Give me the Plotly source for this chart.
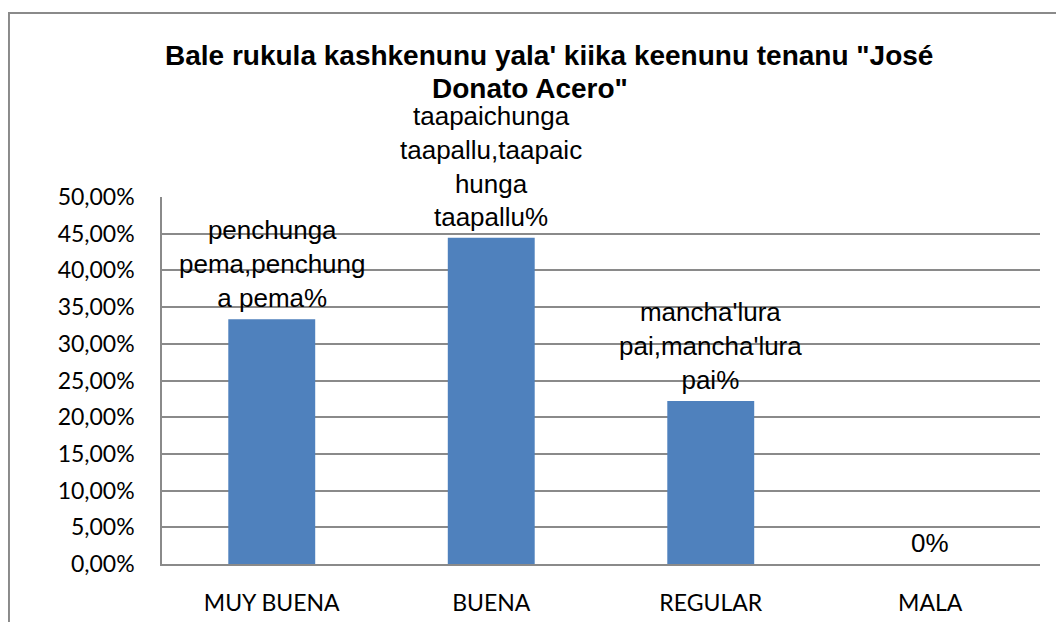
import plotly.graph_objects as go

categories = ["MUY BUENA", "BUENA", "REGULAR", "MALA"]
values = [0.3333, 0.4444, 0.2222, 0.0]
bar_labels = [
    "penchunga<br>pema,penchung<br>a pema%",
    "taapaichunga<br>taapallu,taapaic<br>hunga<br>taapallu%",
    "mancha'lura<br>pai,mancha'lura<br>pai%",
    "0%",
]
tick_vals = [0.0, 0.05, 0.10, 0.15, 0.20, 0.25, 0.30, 0.35, 0.40, 0.45, 0.50]
tick_text = ["0,00%", "5,00%", "10,00%", "15,00%", "20,00%", "25,00%",
             "30,00%", "35,00%", "40,00%", "45,00%", "50,00%"]
title_lines = ["Bale rukula kashkenunu yala' kiika keenunu tenanu \"José",
               "Donato Acero\""]

GRID = "#8a8a8a"
BAR = "#4F81BD"
LABEL_FONT = "Lato, Carlito, Calibri, sans-serif"
ARIAL = "Liberation Sans, Arial, sans-serif"

fig = go.Figure()
fig.add_trace(go.Bar(x=categories, y=values, marker=dict(color=BAR, line=dict(width=0)),
                     hoverinfo="skip"))

annotations = []
for c, v, t in zip(categories, values, bar_labels):
    annotations.append(dict(x=c, y=v, xref="x", yref="y", text=t, showarrow=False,
                            yanchor="bottom", yshift=4,
                            font=dict(family=ARIAL, size=26, color="#000000")))

# title lines
annotations.append(dict(x=0.4408, y=1.385, xref="paper", yref="paper", text=title_lines[0],
                        showarrow=False, xanchor="center", yanchor="middle",
                        font=dict(family=ARIAL, size=28, color="#000000", weight="bold")))
annotations.append(dict(x=0.4191, y=1.297, xref="paper", yref="paper", text=title_lines[1],
                        showarrow=False, xanchor="center", yanchor="middle",
                        font=dict(family=ARIAL, size=28, color="#000000", weight="bold")))

fig.update_layout(
    width=1064, height=622,
    margin=dict(l=154, r=32, t=189, b=66, pad=0, autoexpand=False),
    paper_bgcolor="white", plot_bgcolor="white",
    showlegend=False,
    bargap=0.604,
    annotations=annotations,
    shapes=[dict(type="rect", xref="paper", yref="paper",
                 x0=-0.1743, x1=1.2, y0=-0.4, y1=1.5014,
                 line=dict(color=GRID, width=2), fillcolor="rgba(0,0,0,0)", layer="below")],
)
fig.update_xaxes(showline=True, linecolor=GRID, linewidth=1.5, showgrid=False,
                 ticks="", automargin=False,
                 tickfont=dict(family=LABEL_FONT, size=23, color="#000000"),
                 ticklabelstandoff=18)
fig.update_yaxes(range=[0, 0.5], tickvals=tick_vals, ticktext=tick_text,
                 showgrid=True, gridcolor=GRID, gridwidth=1.5, zeroline=False,
                 showline=True, linecolor=GRID, linewidth=1.5, ticks="", automargin=False,
                 tickfont=dict(family=LABEL_FONT, size=23, color="#000000"),
                 ticklabelstandoff=21)

fig.write_html("out.html")
